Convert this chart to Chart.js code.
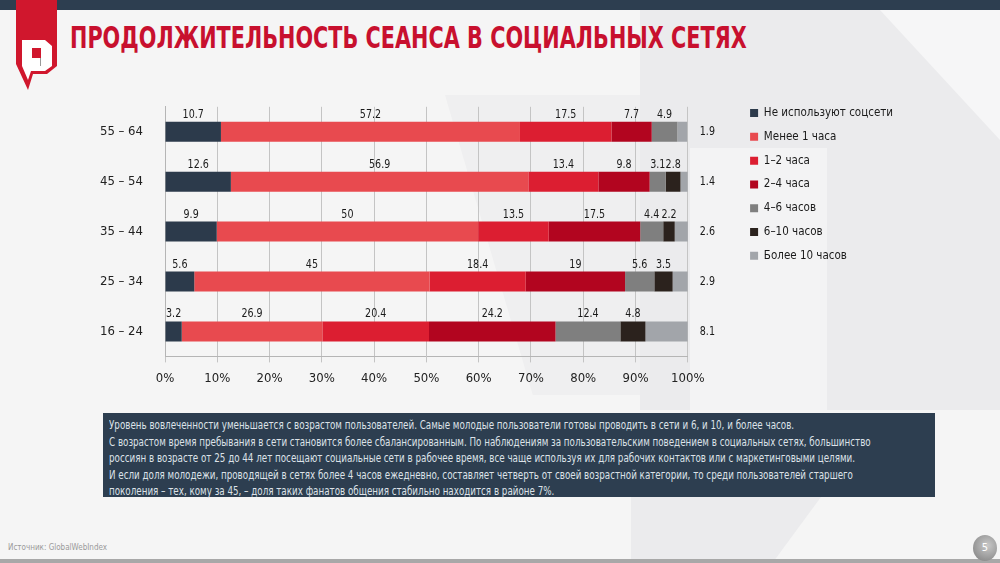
<!DOCTYPE html>
<html lang="ru">
<head>
<meta charset="UTF-8">
<title>Продолжительность сеанса в социальных сетях</title>
<script src="https://cdn.jsdelivr.net/npm/chart.js@4.4.1/dist/chart.umd.min.js"></script>
<style>
  html, body { margin: 0; padding: 0; }
  body {
    width: 1000px; height: 563px; position: relative; overflow: hidden;
    background: #f5f5f5;
    font-family: "DejaVu Sans Condensed", "Noto Sans", sans-serif;
  }
  .topbar { position: absolute; left: 0; top: 0; width: 1000px; height: 10px; background: #2d3e50; }
  .shade1 { position: absolute; left: 640px; top: 10px; width: 360px; height: 400px; background: #ebebed; }
  .shade1b { position: absolute; left: 690px; top: 148px; width: 137px; height: 262px; background: #f3f3f4; }
  .shade1c { position: absolute; left: 880px; top: 10px; width: 120px; height: 130px; background: #f6f6f7;
             clip-path: polygon(0 0, 100% 0, 100% 100%); }
  .shade2 { position: absolute; left: 445px; top: 95px; width: 195px; height: 300px; background: #efeff0;
            clip-path: polygon(0 0, 100% 0, 100% 100%, 45% 100%); }
  .shade4 { position: absolute; left: 631px; top: 497px; width: 190px; height: 62px; background: #ebebed;
            clip-path: polygon(0 0, 100% 0, 76% 100%, 0 100%); }
  .logo { position: absolute; left: 0; top: 0; }
  h1 {
    position: absolute; left: 70px; top: 20px; margin: 0;
    font-size: 30px; font-weight: bold; color: #c8102e; white-space: nowrap;
    transform: scaleX(0.77); transform-origin: left top;
  }
  .chartbox { position: absolute; left: 95px; top: 85px; width: 808px; height: 309px; }
  .note {
    position: absolute; left: 103px; top: 413px; width: 832px; height: 84px;
    background: #2d3e50; color: #dde2e8; box-sizing: border-box;
    padding: 4px 6px;
  }
  .note div {
    font-size: 12px; line-height: 16.6px; white-space: nowrap;
    transform: scaleX(0.81); transform-origin: left top;
  }
  .source { position: absolute; left: 8px; top: 543px; font-size: 8px; color: #9a9a9a; }
  .bottombar { position: absolute; left: 0; top: 559px; width: 1000px; height: 4px; background: #a8a8a8; }
  .page {
    position: absolute; left: 973px; top: 535px; width: 24px; height: 26px; border-radius: 50%;
    background: radial-gradient(circle at 60% 40%, #c9c9c9, #7b7b7b);
    color: #fff; font-size: 11px; text-align: center; line-height: 26px;
  }
</style>
</head>
<body>
<div class="topbar"></div>
<div class="shade1"></div>
<div class="shade1b"></div>
<div class="shade1c"></div>
<div class="shade2"></div>
<div class="shade4"></div>

<svg class="logo" width="70" height="95" viewBox="0 0 70 95">
  <polygon points="16,0 57,0 57,66 47,74 33,74 28,90 16,64" fill="#d0172d"/>
  <polygon points="22,40 45,40 52,46 52,66 45,71 31,71 28,80 22,66" fill="#fff"/>
  <rect x="32" y="48" width="9" height="10" fill="#d0172d"/>
  <line x1="40.5" y1="58" x2="40.5" y2="66" stroke="#999" stroke-width="1"/>
</svg>

<h1>ПРОДОЛЖИТЕЛЬНОСТЬ СЕАНСА В СОЦИАЛЬНЫХ СЕТЯХ</h1>

<div class="chartbox"><canvas id="chart1"></canvas></div>

<div class="note"><div>
Уровень вовлеченности уменьшается с возрастом пользователей. Самые молодые пользователи готовы проводить в сети и 6, и 10, и более часов.<br>
С возрастом время пребывания в сети становится более сбалансированным. По наблюдениям за пользовательским поведением в социальных сетях, большинство<br>
россиян в возрасте от 25 до 44 лет посещают социальные сети в рабочее время, все чаще используя их для рабочих контактов или с маркетинговыми целями.<br>
И если доля молодежи, проводящей в сетях более 4 часов ежедневно, составляет четверть от своей возрастной категории, то среди пользователей старшего<br>
поколения – тех, кому за 45, – доля таких фанатов общения стабильно находится в районе 7%.
</div></div>

<div class="source">Источник: GlobalWebIndex</div>
<div class="bottombar"></div>
<div class="page">5</div>

<script>
  // возрастные группы (сверху вниз)
  const ageGroups = ["55 – 64", "45 – 54", "35 – 44", "25 – 34", "16 – 24"];

  // доли, % (по группам в том же порядке)
  const noSocial   = [10.7, 12.6, 9.9, 5.6, 3.2];
  const under1h    = [57.2, 56.9, 50, 45, 26.9];
  const h1to2      = [17.5, 13.4, 13.5, 18.4, 20.4];
  const h2to4      = [7.7, 9.8, 17.5, 19, 24.2];
  const h4to6      = [4.9, 3.1, 4.4, 5.6, 12.4];
  const h6to10     = [0, 2.8, 2.2, 3.5, 4.8];
  const over10h    = [1.9, 1.4, 2.6, 2.9, 8.1];

  const seriesNames = ["Не используют соцсети", "Менее 1 часа", "1–2 часа", "2–4 часа",
                       "4–6 часов", "6–10 часов", "Более 10 часов"];
  const xTicks = ["0%", "10%", "20%", "30%", "40%", "50%", "60%", "70%", "80%", "90%", "100%"];

  const seriesData = [noSocial, under1h, h1to2, h2to4, h4to6, h6to10, over10h];
  const colors = ["#2c3a4b", "#e84a4f", "#dc1e31", "#b2051f", "#7f7f7f", "#2b221d", "#a2a5aa"];

  const fontFamily = '"DejaVu Sans Condensed", sans-serif';

  // подписи значений над сегментами (узкий шрифт)
  const valueLabels = {
    id: "valueLabels",
    afterDatasetsDraw(chart) {
      const ctx = chart.ctx;
      const last = chart.data.datasets.length - 1;
      chart.data.datasets.forEach((ds, i) => {
        const meta = chart.getDatasetMeta(i);
        meta.data.forEach((bar, j) => {
          const v = ds.data[j];
          if (!v) return;
          ctx.save();
          ctx.font = "12.5px " + fontFamily;
          ctx.fillStyle = "#1a1a1a";
          if (i === last) {
            ctx.translate(chart.chartArea.right + 12, bar.y);
            ctx.scale(0.85, 1);
            ctx.textAlign = "left";
            ctx.textBaseline = "middle";
          } else {
            ctx.translate((bar.base + bar.x) / 2, bar.y - bar.height / 2 - 1);
            ctx.scale(0.85, 1);
            ctx.textAlign = "center";
            ctx.textBaseline = "bottom";
          }
          ctx.fillText(String(v), 0, 0);
          ctx.restore();
        });
      });
    }
  };

  // сдвиг легенды вправо от подписей
  const legendShift = {
    id: "legendShift",
    afterLayout(chart) {
      chart.legend.left += 50;
      chart.legend.right += 50;
      chart.legend.top += 10;
      chart.legend.bottom += 10;
    }
  };

  new Chart(document.getElementById("chart1"), {
    type: "bar",
    data: {
      labels: ageGroups,
      datasets: seriesData.map((d, i) => ({
        label: seriesNames[i],
        data: d,
        backgroundColor: colors[i],
        borderWidth: 0,
        barPercentage: 0.4,
        categoryPercentage: 1
      }))
    },
    options: {
      indexAxis: "y",
      responsive: true,
      maintainAspectRatio: false,
      animation: false,
      layout: { padding: { top: 0, right: 50, left: 0, bottom: 0 } },
      scales: {
        x: {
          stacked: true,
          min: 0,
          max: 100,
          ticks: {
            stepSize: 10,
            color: "#222",
            font: { family: fontFamily, size: 13 },
            padding: 8,
            callback: (v, idx) => xTicks[idx]
          },
          grid: { color: "#c4c4c4", drawTicks: true, tickLength: 6 },
          border: { color: "#b5b5b5" }
        },
        y: {
          stacked: true,
          ticks: {
            color: "#222",
            font: { family: fontFamily, size: 13 },
            padding: 14
          },
          grid: { display: false },
          border: { color: "#b5b5b5" },
          afterFit(scale) { scale.width = 70; }
        }
      },
      plugins: {
        legend: {
          position: "right",
          align: "start",
          labels: {
            boxWidth: 8,
            boxHeight: 8,
            padding: 12.3,
            color: "#1a1a1a",
            font: { family: fontFamily, size: 11.5 }
          }
        },
        tooltip: { enabled: false }
      }
    },
    plugins: [valueLabels, legendShift]
  });
</script>
</body>
</html>
